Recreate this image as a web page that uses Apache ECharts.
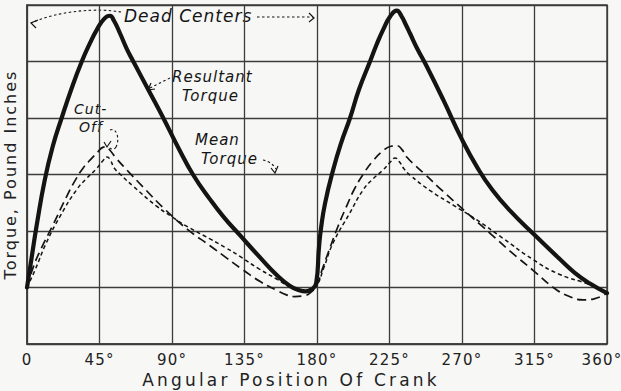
<!DOCTYPE html>
<html>
<head>
<meta charset="utf-8">
<script src="https://cdn.jsdelivr.net/npm/echarts@6/dist/echarts.min.js"></script>
<style>
  html, body { margin: 0; padding: 0; background: #f7f7f5; }
  #chart { width: 621px; height: 391px; }
</style>
</head>
<body>
<div id="chart"></div>
<script>
// Crank angle ticks (degrees)
const xTicks = [0, 45, 90, 135, 180, 225, 270, 315, 360];

// Resultant torque over one revolution: [angle, torque]
const resultantTorque = [
  [0, 1.0], [3, 1.55], [6, 2.1], [11, 2.9], [16, 3.5], [21.5, 4.0], [28, 4.55], [34, 5.0],
  [39, 5.32], [43.3, 5.56], [48, 5.76], [51.5, 5.81], [54, 5.72], [57.7, 5.5], [62, 5.22],
  [66, 5.0], [75.3, 4.5], [84.6, 4.0], [94, 3.47], [103, 3.0], [113.6, 2.56], [122, 2.25],
  [132, 1.93], [145, 1.52], [155, 1.22], [163, 1.03], [169, 0.95], [173, 0.93], [177, 0.97],
  [179.5, 1.08], [181.2, 1.7], [182.5, 2.05], [185, 2.49], [190, 3.08], [195, 3.56], [200.5, 4.0],
  [206, 4.5], [212.9, 5.0], [217, 5.3], [221, 5.56], [225.5, 5.8], [229.5, 5.9], [232.5, 5.8],
  [235, 5.66], [237.7, 5.5], [242, 5.24], [248, 4.92], [258.4, 4.32], [269.8, 3.63],
  [280, 3.1], [289, 2.72], [299.8, 2.36], [314.3, 1.95], [330.8, 1.5], [340, 1.26],
  [349.4, 1.07], [360, 0.9]
];

// Torque of the first cylinder (long dashes)
const cylinderA = [
  [0, 1.0], [4, 1.37], [9, 1.7], [16, 2.1], [24.6, 2.61], [30, 2.9], [35, 3.12], [40, 3.28],
  [44, 3.4], [47, 3.48], [49, 3.49], [51.5, 3.43], [55, 3.3], [62, 3.08], [72, 2.78], [85, 2.4],
  [100, 2.02], [113.6, 1.74], [124, 1.52], [134.2, 1.31], [145, 1.1], [155, 0.95], [161, 0.87],
  [166, 0.84], [171, 0.85], [175.6, 0.9], [180, 1.05], [183, 1.3], [187, 1.62], [193, 2.08],
  [199, 2.48], [203, 2.73], [209, 3.02], [215, 3.25], [221, 3.42], [226, 3.5], [229.5, 3.51],
  [232.5, 3.45], [236, 3.3], [241, 3.16], [246, 3.03], [256, 2.76], [268.8, 2.43],
  [287.4, 1.96], [300, 1.64], [314.3, 1.3], [326.7, 1.0], [336, 0.85], [345.3, 0.78],
  [352, 0.8], [360, 0.9]
];

// Torque of the second cylinder (short dashes)
const cylinderB = [
  [0, 1.0], [5, 1.31], [12, 1.79], [20.5, 2.26], [30.8, 2.73], [37, 2.93], [43, 3.1], [47, 3.24],
  [49.7, 3.31], [52, 3.24], [54, 3.12], [58, 3.0], [66, 2.79], [80, 2.45], [90, 2.25], [100, 2.07],
  [113.6, 1.86], [123, 1.71], [132.2, 1.55], [144, 1.33], [155, 1.15], [164, 1.0], [171, 0.95],
  [176, 0.98], [180, 1.05], [184, 1.33], [190, 1.79], [200, 2.3], [208.7, 2.73], [215, 2.93],
  [221, 3.08], [225.5, 3.22], [228.5, 3.29], [231, 3.23], [234, 3.1], [237.7, 2.99],
  [250, 2.72], [265, 2.45], [279, 2.2], [295, 1.88], [314.3, 1.49], [330, 1.24],
  [349.4, 1.05], [360, 0.92]
];

const ink = '#141414';
const gridInk = '#3c3c3c';
const letterFont = '"DejaVu Sans", sans-serif';
const xTitle = 'Angular Position Of Crank';
const yTitle = 'Torque, Pound Inches';

const chart = echarts.init(document.getElementById('chart'), null, { renderer: 'svg' });

const dotted = { fill: null, stroke: ink, lineWidth: 1.1, lineDash: [2.5, 2.5] };
const solidThin = { fill: null, stroke: ink, lineWidth: 1.2 };

// Dotted curved leader
function curve(x1, y1, c1x, c1y, c2x, c2y, x2, y2) {
  return {
    type: 'bezierCurve', silent: true,
    shape: { x1: x1, y1: y1, cpx1: c1x, cpy1: c1y, cpx2: c2x, cpy2: c2y, x2: x2, y2: y2 },
    style: dotted
  };
}
// Dotted straight leader
function straight(x1, y1, x2, y2) {
  return { type: 'line', silent: true, shape: { x1: x1, y1: y1, x2: x2, y2: y2 }, style: dotted };
}
// Open arrowhead
function head(points) {
  return { type: 'polyline', silent: true, shape: { points: points }, style: solidThin };
}
function note(text, x, y, size) {
  return {
    type: 'text', silent: true,
    x: x, y: y,
    style: {
      text: text,
      font: 'italic ' + (size || 16) + 'px ' + letterFont,
      fill: ink,
      verticalAlign: 'middle'
    }
  };
}

chart.setOption({
  backgroundColor: '#f7f7f5',
  animation: false,
  grid: {
    left: 27, right: 14, top: 5, bottom: 47,
    outerBoundsMode: 'none',
    containLabel: false,
    show: true, borderColor: gridInk, borderWidth: 1.4,
    backgroundColor: 'transparent'
  },
  xAxis: {
    type: 'value',
    min: 0, max: 360, interval: 45,
    name: xTitle,
    nameLocation: 'middle',
    nameGap: 24,
    nameTextStyle: { fontFamily: letterFont, fontSize: 17, color: '#222', padding: [0, 52, 0, 0] },
    axisLine: { show: true, lineStyle: { color: gridInk, width: 1.6 } },
    axisTick: { show: false },
    axisLabel: {
      fontFamily: letterFont, fontSize: 15, color: '#222', margin: 8,
      showMinLabel: true, showMaxLabel: true, hideOverlap: false,
      formatter: v => {
        const i = xTicks.indexOf(v);
        if (i === 0) return '0';
        if (i === xTicks.length - 1) return '{end|' + v + '°}';
        return v + '°';
      },
      rich: {
        end: { fontFamily: letterFont, fontSize: 15, color: '#222', padding: [0, 10, 0, 0] }
      }
    },
    splitLine: { show: true, lineStyle: { color: gridInk, width: 1.3 } }
  },
  yAxis: {
    type: 'value',
    min: 0, max: 6, interval: 1,
    name: yTitle,
    nameLocation: 'middle',
    nameGap: 9,
    nameTextStyle: { fontFamily: letterFont, fontSize: 16, color: '#222' },
    axisLine: { show: true, lineStyle: { color: gridInk, width: 1.6 } },
    axisTick: { show: false },
    axisLabel: { show: false },
    splitLine: { show: true, lineStyle: { color: gridInk, width: 1.3 } }
  },
  series: [
    {
      name: 'Resultant Torque', type: 'line', data: resultantTorque,
      smooth: 0.5, showSymbol: false,
      lineStyle: { color: ink, width: 4.2, cap: 'round', join: 'round' }, z: 5
    },
    {
      name: 'Cylinder A', type: 'line', data: cylinderA,
      smooth: 0.5, showSymbol: false,
      lineStyle: { color: ink, width: 1.7, type: [9, 5] }, z: 4
    },
    {
      name: 'Cylinder B', type: 'line', data: cylinderB,
      smooth: 0.5, showSymbol: false,
      lineStyle: { color: ink, width: 1.5, type: [4, 3] }, z: 4
    }
  ],
  graphic: [
    // Dead centers
    note('Dead Centers', 124, 16, 17),
    curve(121, 12, 100, 8, 60, 10, 31, 23),
    head([[38, 20], [31, 23], [36, 28]]),
    straight(257, 17, 313, 17),
    head([[309, 13], [314, 18], [309, 22]]),
    // Resultant torque
    note('Resultant', 172, 77, 15),
    note('Torque', 182, 96, 15),
    straight(170, 78, 150, 88),
    head([[151, 83], [148, 90], [155, 89]]),
    // Cut-off
    note('Cut-', 74, 109, 14),
    note('Off', 79, 127, 14),
    curve(110, 130, 117, 127, 120, 140, 116, 147),
    curve(116, 147, 114, 151, 110, 149, 108, 146),
    head([[104, 142], [107, 147], [111, 141]]),
    // Mean torque
    note('Mean', 195, 140, 15),
    note('Torque', 201, 159, 15),
    curve(263, 160, 268, 161, 273, 164, 276, 169),
    head([[271, 168], [275, 173], [278, 166]])
  ]
});

// Hand-lettered look: open up the letter spacing of the drawn texts
function spaceLetters() {
  document.querySelectorAll('#chart text').forEach(t => {
    const s = t.textContent;
    let ls = '1px';
    if (s === xTitle) ls = '3.2px';
    else if (s === yTitle) ls = '2px';
    else if (/^\d+°?$/.test(s)) ls = '1.2px';
    t.style.letterSpacing = ls;
  });
}
chart.on('finished', spaceLetters);
spaceLetters();
</script>
</body>
</html>
